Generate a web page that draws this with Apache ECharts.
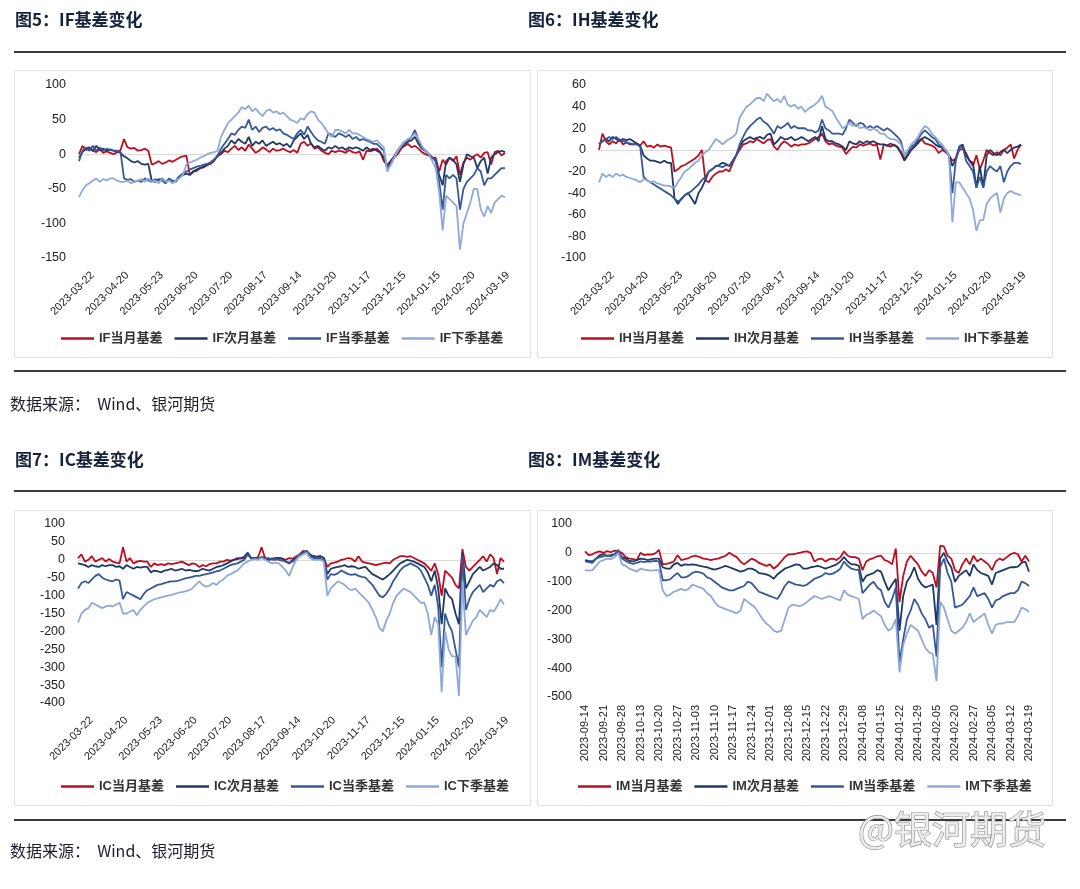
<!DOCTYPE html>
<html><head><meta charset="utf-8">
<script src="https://cdn.jsdelivr.net/npm/echarts@6/dist/echarts.min.js"></script>
<style>html,body{margin:0;padding:0;background:#fff}#c{width:1080px;height:889px}</style>
</head><body><div id="c"></div>
<script>
// ---- categories ----
const datesA = [
'2023-03-22','2023-03-24','2023-03-28','2023-03-30','2023-04-03','2023-04-06','2023-04-10','2023-04-12','2023-04-14','2023-04-18',
'2023-04-20','2023-04-24','2023-04-26','2023-04-28','2023-05-05','2023-05-09','2023-05-11','2023-05-15','2023-05-17','2023-05-19',
'2023-05-23','2023-05-25','2023-05-29','2023-05-31','2023-06-02','2023-06-06','2023-06-08','2023-06-12','2023-06-14','2023-06-16',
'2023-06-20','2023-06-26','2023-06-28','2023-06-30','2023-07-04','2023-07-06','2023-07-10','2023-07-12','2023-07-14','2023-07-18',
'2023-07-20','2023-07-24','2023-07-26','2023-07-28','2023-08-01','2023-08-03','2023-08-07','2023-08-09','2023-08-11','2023-08-15',
'2023-08-17','2023-08-21','2023-08-23','2023-08-25','2023-08-29','2023-08-31','2023-09-04','2023-09-06','2023-09-08','2023-09-12',
'2023-09-14','2023-09-18','2023-09-20','2023-09-22','2023-09-26','2023-09-28','2023-10-10','2023-10-12','2023-10-16','2023-10-18',
'2023-10-20','2023-10-24','2023-10-26','2023-10-30','2023-11-01','2023-11-03','2023-11-07','2023-11-09','2023-11-13','2023-11-15',
'2023-11-17','2023-11-21','2023-11-23','2023-11-27','2023-11-29','2023-12-01','2023-12-05','2023-12-07','2023-12-11','2023-12-13',
'2023-12-15','2023-12-19','2023-12-21','2023-12-25','2023-12-27','2023-12-29','2024-01-03','2024-01-05','2024-01-09','2024-01-11',
'2024-01-15','2024-01-17','2024-01-19','2024-01-23','2024-01-25','2024-01-29','2024-01-31','2024-02-02','2024-02-06','2024-02-08',
'2024-02-20','2024-02-22','2024-02-26','2024-02-28','2024-03-01','2024-03-05','2024-03-07','2024-03-11','2024-03-13','2024-03-15',
'2024-03-19','2024-03-21','2024-03-25','2024-03-27'];
const datesM = [
'2023-09-14','2023-09-15','2023-09-18','2023-09-19','2023-09-20','2023-09-21','2023-09-22','2023-09-25','2023-09-26','2023-09-27',
'2023-09-28','2023-10-09','2023-10-10','2023-10-11','2023-10-12','2023-10-13','2023-10-16','2023-10-17','2023-10-18','2023-10-19',
'2023-10-20','2023-10-23','2023-10-24','2023-10-25','2023-10-26','2023-10-27','2023-10-30','2023-10-31','2023-11-01','2023-11-02',
'2023-11-03','2023-11-06','2023-11-07','2023-11-08','2023-11-09','2023-11-10','2023-11-13','2023-11-14','2023-11-15','2023-11-16',
'2023-11-17','2023-11-20','2023-11-21','2023-11-22','2023-11-23','2023-11-24','2023-11-27','2023-11-28','2023-11-29','2023-11-30',
'2023-12-01','2023-12-04','2023-12-05','2023-12-06','2023-12-07','2023-12-08','2023-12-11','2023-12-12','2023-12-13','2023-12-14',
'2023-12-15','2023-12-18','2023-12-19','2023-12-20','2023-12-21','2023-12-22','2023-12-25','2023-12-26','2023-12-27','2023-12-28',
'2023-12-29','2024-01-02','2024-01-03','2024-01-04','2024-01-05','2024-01-08','2024-01-09','2024-01-10','2024-01-11','2024-01-12',
'2024-01-15','2024-01-16','2024-01-17','2024-01-18','2024-01-19','2024-01-22','2024-01-23','2024-01-24','2024-01-25','2024-01-26',
'2024-01-29','2024-01-30','2024-01-31','2024-02-01','2024-02-02','2024-02-05','2024-02-06','2024-02-07','2024-02-08','2024-02-19',
'2024-02-20','2024-02-21','2024-02-22','2024-02-23','2024-02-26','2024-02-27','2024-02-28','2024-02-29','2024-03-01','2024-03-04',
'2024-03-05','2024-03-06','2024-03-07','2024-03-08','2024-03-11','2024-03-12','2024-03-13','2024-03-14','2024-03-15','2024-03-18',
'2024-03-19'];

// ---- IF ----
const ifCur = [0,12,6,8,5,3,7,2,4,2, 0,3,6,22,10,8,9,5,6,8, 5,-15,-13,-10,-14,-12,-9,-11,-8,-5, -3,-2,-30,-25,-24,-20,-19,-16,-14,-10,
 -2,0,5,3,8,12,6,10,5,14, 8,2,5,10,7,3,8,5,6,8, 5,3,6,2,15,18,12,16,8,10, 5,2,0,5,3,5,4,2,6,3,
 2,4,-8,5,4,6,8,3,-10,-15, -10,-5,0,8,12,15,10,12,8,3, 0,-2,-5,-5,-25,-8,-15,-5,-10,-3, -30,-12,-5,-8,-3,0,-5,2,3,-15, 3,5,-2,2];
const ifNext = [-5,3,8,10,5,12,6,8,5,7, 5,4,2,-3,-6,-10,-12,-10,-14,-15, -14,-38,-40,-36,-38,-42,-35,-40,-38,-32, -30,-28,-30,-25,-22,-20,-18,-15,-12,-8,
 -3,2,8,12,20,15,22,18,15,25, 12,18,15,20,12,15,18,14,16,12, 15,10,20,25,30,22,28,15,10,12, 8,5,10,8,12,8,10,6,10,8,
 10,8,5,10,6,8,5,2,-5,-20, -10,-3,5,10,15,18,20,25,15,8, 5,0,-5,-10,-30,-45,-10,-5,-8,-15, -40,-15,0,-3,-5,-20,-10,-5,-28,-5, 0,3,5,3];
const ifQtr = [-10,5,10,5,12,5,10,5,8,6, 5,5,3,-35,-37,-36,-40,-38,-40,-35, -38,-40,-36,-38,-35,-40,-36,-38,-40,-32, -28,-25,-22,-20,-18,-17,-15,-14,-12,-8,
 -2,8,15,22,30,28,35,40,38,50, 35,40,32,38,40,35,38,34,36,30, 28,25,22,30,35,28,40,32,25,20, 18,15,30,28,25,30,28,25,28,22,
 25,20,22,20,18,15,15,10,5,-22, -15,-5,5,12,18,20,25,35,20,10, 5,0,-5,-10,-40,-80,-30,-35,-30,-35, -80,-50,-40,-35,-30,-20,-25,-45,-35,-35, -30,-25,-20,-20];
const ifNextQtr = [-62,-52,-45,-42,-38,-35,-40,-36,-38,-35, -35,-38,-40,-40,-38,-42,-40,-38,-36,-40, -35,-40,-38,-42,-36,-40,-38,-42,-38,-35, -30,-15,-12,-10,-8,-5,-3,0,2,3,
 5,25,35,45,50,55,60,68,65,70, 62,66,60,55,62,65,60,62,58,60, 55,50,48,45,52,50,58,62,60,50, 45,38,30,25,35,35,33,30,35,30,
 30,28,25,22,20,18,20,15,10,-25, -15,-5,5,12,18,22,25,30,22,12, 5,0,-10,-20,-55,-110,-60,-65,-70,-75, -138,-100,-85,-70,-50,-50,-80,-90,-75,-85, -70,-65,-60,-62];

// ---- IH ----
const ihCur = [0,15,8,5,8,6,10,5,7,5, 5,6,4,8,3,4,2,5,3,4, 3,2,-20,-18,-15,-14,-12,-10,-8,-5, 0,-28,-30,-25,-22,-20,-20,-18,-20,-12,
 -5,0,5,6,8,7,10,8,6,9, 10,3,0,5,8,6,3,5,4,5, 5,6,8,10,12,15,8,5,6,4, 3,2,-4,0,3,2,5,4,5,6,
 4,5,-9,5,4,6,4,3,-2,-8, -5,0,3,6,10,6,5,4,2,-3, 0,-2,-5,-10,-8,0,1,-3,-10,-15, -5,-18,-10,0,-3,-5,-2,-5,0,2, 5,-8,0,5];
const ihNext = [5,8,10,8,12,10,8,10,9,10, 8,6,4,-5,-8,-10,-10,-11,-12,-10, -12,-12,-45,-50,-45,-42,-40,-45,-50,-40, -35,-28,-20,-18,-15,-14,-12,-13,-15,-10,
 -5,3,8,10,12,10,11,12,10,14, 15,5,8,12,10,10,12,9,10,12, 10,8,10,12,8,22,10,8,8,6, 5,3,0,8,6,5,8,6,8,7,
 8,6,5,5,4,3,5,2,-3,-10, -5,0,3,8,10,12,10,8,5,3, 2,0,-5,-15,-8,3,5,-5,-10,-12, -35,-15,-35,-5,0,-3,-5,-2,0,-3, 0,2,3,5];
const ihQtr = [5,8,10,12,10,12,9,8,7,6, 5,5,3,-25,-28,-30,-32,-34,-36,-38, -40,-42,-45,-48,-46,-42,-40,-38,-35,-32, -28,-25,-20,-18,-15,-15,-16,-14,-15,-10,
 -5,5,12,18,22,25,28,30,26,24, 20,15,22,20,22,25,20,22,20,20, 20,18,18,16,18,28,20,18,15,15, 15,14,20,28,25,22,25,24,20,22,
 20,22,20,18,20,18,15,12,8,-5, -2,3,5,10,15,18,15,12,10,5, 3,0,-5,-40,-10,2,3,-10,-15,-20, -35,-25,-35,-20,-15,-18,-20,-15,-30,-20, -15,-12,-12,-13];
const ihNextQtr = [-30,-22,-25,-23,-25,-22,-24,-23,-25,-26, -27,-28,-30,-27,-28,-30,-29,-31,-32,-33, -33,-34,-35,-30,-25,-20,-18,-15,-12,-10, -5,-2,0,5,10,8,5,8,10,12,
 15,30,35,40,42,45,48,48,45,52, 48,45,47,44,50,42,40,42,38,40, 35,38,40,42,45,50,40,38,36,30, 25,20,22,25,22,24,20,21,20,18,
 20,18,15,15,12,10,10,8,5,-5, 0,5,8,12,18,22,20,15,12,8, 5,0,-5,-67,-30,-30,-35,-40,-45,-55, -75,-65,-65,-50,-45,-42,-40,-58,-45,-40, -38,-40,-41,-42];

// ---- IC ----
const icCur = [5,15,-5,0,10,-5,0,5,-5,2, -5,-8,-10,35,-5,5,-10,-5,-3,-5, -5,-20,-10,-15,-12,-15,-10,-12,-10,-8, -5,-10,-15,-10,-12,-20,-15,-18,-12,-10,
 -10,-5,-5,0,-2,0,5,3,5,15, 5,3,8,35,5,0,3,0,5,3, 0,5,3,10,15,25,20,10,10,8, 10,5,-20,-10,-8,-5,0,2,5,3,
 -5,10,-5,-8,-10,-12,-15,-12,-10,-8, -10,0,5,10,10,8,10,5,0,-5, -10,-20,-30,-10,-40,-100,-30,-40,-50,-70, -80,30,-20,-30,-20,-10,0,10,-5,15, 5,-40,5,-5];
const icNext = [-10,-12,-15,-20,-15,-18,-20,-15,-18,-15, -15,-20,-18,-25,-15,-20,-25,-20,-22,-20, -20,-35,-30,-32,-35,-30,-28,-25,-30,-28, -25,-30,-28,-30,-32,-30,-25,-28,-30,-25,
 -20,-18,-15,-10,-5,0,2,5,8,20, 5,5,3,8,5,0,3,5,5,3, -5,-10,0,5,10,20,25,15,10,8, 10,5,-40,-25,-22,-20,-18,-15,-20,-18,
 -20,-25,-22,-20,-30,-40,-45,-50,-55,-48, -40,-30,-20,-10,-5,0,-2,-5,-10,-15, -20,-35,-60,-30,-80,-180,-80,-100,-110,-150, -180,20,-80,-60,-40,-30,-20,-30,-25,-20, -10,-15,-25,-25];
const icQtr = [-80,-65,-60,-65,-55,-45,-40,-50,-55,-58, -60,-55,-58,-110,-90,-95,-100,-105,-110,-95, -85,-80,-75,-70,-68,-65,-62,-60,-60,-58, -55,-52,-50,-48,-45,-45,-42,-40,-38,-35,
 -32,-30,-25,-20,-15,-12,-10,-5,0,15, 5,3,5,5,3,5,0,2,0,-2, -5,-8,-5,5,15,20,25,10,5,5, 5,-5,-55,-40,-42,-38,-30,-35,-40,-42,
 -40,-45,-48,-50,-60,-70,-85,-100,-105,-95, -80,-60,-45,-30,-20,-15,-10,-15,-20,-30, -50,-70,-100,-70,-130,-300,-150,-180,-200,-250, -300,10,-140,-110,-90,-80,-70,-90,-80,-70, -75,-60,-55,-65];
const icNextQtr = [-175,-150,-140,-135,-120,-125,-130,-135,-130,-128, -130,-125,-120,-150,-150,-145,-140,-155,-140,-130, -120,-115,-110,-108,-105,-102,-100,-98,-95,-92, -90,-88,-85,-80,-70,-60,-70,-75,-72,-65,
 -70,-60,-55,-45,-40,-35,-30,-20,-10,-5, 0,2,0,5,0,-5,-10,-8,-10,-20, -30,-45,-20,0,10,15,20,5,0,0, 0,-5,-100,-80,-70,-60,-65,-70,-80,-85,
 -80,-90,-100,-110,-120,-140,-160,-190,-200,-170, -150,-120,-100,-90,-80,-85,-90,-100,-110,-120, -120,-150,-210,-160,-180,-370,-200,-250,-270,-270, -380,-60,-210,-190,-170,-160,-140,-150,-160,-140, -145,-130,-110,-125];

// ---- IM ----
const imCur = [5,-8,-5,2,5,0,6,2,8,5, 0,-15,-20,-22,-25,0,-8,-5,-6,-2, 10,-40,-38,-35,-30,-8,-25,-22,-18,-12, -10,-15,-20,-22,-25,-22,-20,-15,-10,0,
 -8,-15,-30,-40,-30,-20,-25,-35,-40,-45, -40,-55,-45,-30,-15,-5,-5,-3,0,3, 5,0,-30,-22,-20,-30,-22,-20,-25,-15, 5,-10,-15,-15,-20,-60,-30,-22,-18,-12,
 -10,-25,-30,-40,15,-170,-80,-30,-10,-25, -40,-65,-80,-60,-70,-120,25,22,-10,-20, -60,-70,-40,-20,-40,-10,-30,-20,-30,-40, -60,-30,-20,-25,-15,-5,0,-5,-30,-10, -30];
const imNext = [-25,-28,-30,-20,-8,-5,-10,-8,-5,5, -15,-20,-28,-30,-25,-20,-22,-25,-22,-20, -20,-50,-55,-55,-40,-35,-45,-40,-42,-40, -42,-45,-48,-50,-55,-58,-55,-50,-45,-50,
 -55,-60,-65,-62,-55,-55,-60,-70,-72,-75, -80,-90,-75,-65,-55,-50,-45,-40,-42,-55, -55,-50,-48,-45,-50,-55,-50,-45,-40,-30, -15,-30,-40,-40,-45,-100,-80,-75,-70,-60,
 -65,-100,-130,-110,-90,-270,-150,-100,-80,-50, -90,-110,-120,-115,-110,-250,-20,0,-30,-50, -100,-80,-70,-60,-80,-40,-60,-70,-75,-80, -110,-70,-65,-60,-55,-50,-50,-48,-35,-30, -65];
const imQtr = [-30,-32,-35,-20,-15,-12,-10,-12,-5,10, -20,-28,-35,-38,-35,-30,-32,-30,-30,-28, -30,-95,-95,-92,-80,-70,-85,-85,-80,-70, -65,-68,-72,-85,-90,-100,-110,-120,-125,-130,
 -130,-125,-120,-115,-100,-105,-120,-135,-140,-145, -150,-155,-160,-140,-115,-100,-105,-110,-112,-115, -110,-100,-90,-85,-80,-70,-75,-72,-65,-55, -30,-45,-55,-58,-60,-140,-125,-110,-100,-120,
 -130,-170,-190,-160,-120,-380,-300,-230,-200,-160, -180,-210,-230,-260,-250,-360,-50,-20,-70,-100, -190,-185,-180,-165,-150,-120,-150,-145,-140,-160, -190,-165,-160,-150,-145,-140,-140,-130,-100,-105, -115];
const imNextQtr = [-60,-62,-60,-45,-30,-25,-20,-22,-15,0, -40,-45,-55,-60,-65,-55,-58,-60,-62,-60, -60,-130,-150,-145,-135,-130,-125,-130,-125,-110, -115,-120,-125,-140,-150,-170,-185,-190,-195,-200,
 -205,-210,-200,-160,-170,-180,-190,-210,-230,-245, -255,-270,-275,-270,-230,-190,-180,-182,-185,-180, -170,-160,-150,-155,-160,-155,-150,-155,-160,-165, -130,-145,-150,-155,-160,-230,-215,-210,-200,-210,
 -220,-250,-270,-260,-230,-415,-320,-280,-250,-260, -270,-300,-330,-345,-350,-445,-170,-190,-230,-270, -280,-270,-260,-240,-210,-240,-230,-220,-210,-250, -280,-250,-245,-245,-240,-240,-240,-220,-190,-195, -205];

const seriesSuffix = ['当月基差', '次月基差', '当季基差', '下季基差'];
const titles = ['图5：IF基差变化', '图6：IH基差变化', '图7：IC基差变化', '图8：IM基差变化'];
const sourceText = '数据来源：  Wind、银河期货';
const watermark = '@银河期货';

const colors = ['#c00d1e', '#1f3864', '#34589a', '#8fa9d8'];
const panels = [
  {p:'IF', dates:datesA, data:[ifCur, ifNext, ifQtr, ifNextQtr], grid:{left:79, top:85, width:426, height:173}, y:[-150,100,50], lg:[56,327], rot:45},
  {p:'IH', dates:datesA, data:[ihCur, ihNext, ihQtr, ihNextQtr], grid:{left:599, top:85, width:422, height:173}, y:[-100,60,20], lg:[576,327], rot:45},
  {p:'IC', dates:datesA, data:[icCur, icNext, icQtr, icNextQtr], grid:{left:78, top:524, width:426, height:179}, y:[-400,100,50], lg:[56,775], rot:45},
  {p:'IM', dates:datesM, data:[imCur, imNext, imQtr, imNextQtr], grid:{left:585, top:524, width:444, height:173}, y:[-500,100,100], lg:[573,775], rot:90}
];

const FONT = '"Liberation Sans", Arial, "Noto Sans CJK SC", sans-serif';
const grids = [], xAxes = [], yAxes = [], series = [], legends = [];
panels.forEach((pn, i) => {
  grids.push(Object.assign({containLabel:false}, pn.grid));
  const lbl = pn.rot === 45
    ? {interval:9, rotate:45, fontSize:11, margin:29, padding:[0,-19,0,0], color:'#222', fontFamily:FONT}
    : {interval:4, rotate:90, fontSize:11, margin:8, color:'#222', fontFamily:FONT};
  xAxes.push({type:'category', gridIndex:i, data:pn.dates, boundaryGap:false, position:'bottom',
    axisLine:{show:false, onZero:false}, axisTick:{show:false}, splitLine:{show:false}, axisLabel:lbl});
  xAxes.push({type:'category', gridIndex:i, data:pn.dates, boundaryGap:false, position:'top',
    axisLine:{show:true, onZero:true, lineStyle:{color:'#d9d9d9', width:1}}, axisTick:{show:false},
    axisLabel:{show:false}, splitLine:{show:false}});
  yAxes.push({type:'value', gridIndex:i, min:pn.y[0], max:pn.y[1], interval:pn.y[2],
    axisLine:{show:false}, axisTick:{show:false}, splitLine:{show:false},
    axisLabel:{fontSize:12.5, color:'#222', margin:13, fontFamily:FONT}});
  const names = [];
  pn.data.forEach((arr, j) => {
    const nm = pn.p + seriesSuffix[j];
    names.push(nm);
    series.push({type:'line', name:nm, xAxisIndex:2*i, yAxisIndex:i, data:arr, symbol:'none', showSymbol:false,
      lineStyle:{width:1.8, color:colors[j]}, itemStyle:{color:colors[j]}, z:2});
  });
  legends.push({data:names, left:pn.lg[0], top:pn.lg[1], icon:'rect', itemWidth:33, itemHeight:2.5, itemGap:12,
    selectedMode:false, textStyle:{fontSize:13, fontWeight:'bold', color:'#333', fontFamily:FONT}});
});

const lineY = [52, 371, 491, 820];
const graphics = [];
[[14,70,516,287],[537,70,515,287],[14,510,516,295],[537,510,515,295]].forEach(b => {
  graphics.push({type:'rect', shape:{x:b[0]+0.5, y:b[1]+0.5, width:b[2], height:b[3]}, style:{fill:null, stroke:'#e2e2e2', lineWidth:1}, z:-1});
});
lineY.forEach(y => graphics.push({type:'line', shape:{x1:14, y1:y, x2:1066, y2:y}, style:{stroke:'#3a3a3a', lineWidth:2}, z:1}));
[[15,11],[528,11],[15,451],[528,451]].forEach((p, k) => {
  graphics.push({type:'text', x:p[0], y:p[1], style:{text:titles[k], fill:'#16223d', font:'bold 17px "Noto Sans CJK SC"'}, z:5});
});
[396, 843].forEach(y => graphics.push({type:'text', x:10, y:y, style:{text:sourceText, fill:'#1c1c2a', font:'16px "Noto Sans CJK SC"'}, z:5}));
graphics.push({type:'text', x:858, y:810, style:{text:watermark, fill:'#ececec', stroke:'#8a8a8a', lineWidth:1.2,
  font:'38px "Noto Sans CJK SC"', shadowColor:'rgba(0,0,0,0.35)', shadowOffsetX:2, shadowOffsetY:2, shadowBlur:2}, z:10});

const chart = echarts.init(document.getElementById('c'), null, {renderer:'canvas'});
chart.setOption({
  animation:false,
  backgroundColor:'#fff',
  grid:grids, xAxis:xAxes, yAxis:yAxes, series:series, legend:legends, graphic:graphics
});
</script></body></html>
